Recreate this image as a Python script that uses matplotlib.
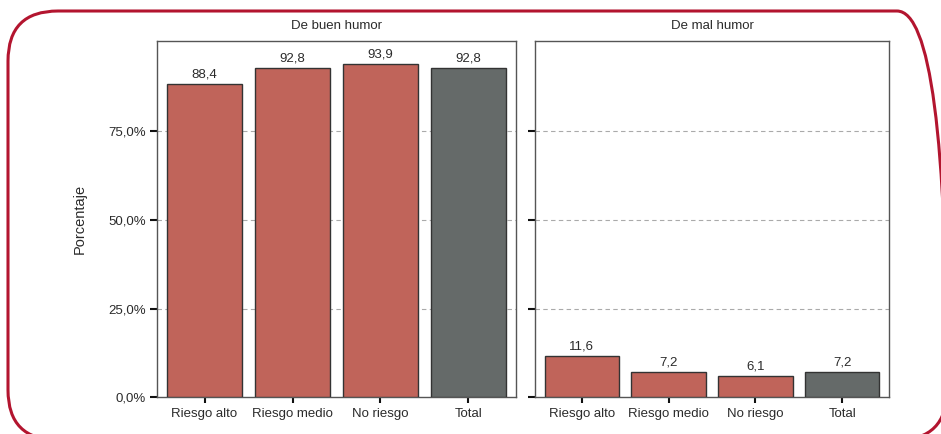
import matplotlib
matplotlib.use('Agg')
import matplotlib.pyplot as plt
from matplotlib.patches import FancyBboxPatch
from matplotlib.transforms import IdentityTransform
from matplotlib.ticker import FuncFormatter

plt.rcParams['font.family'] = ['Liberation Sans', 'DejaVu Sans']

categories = ['Riesgo alto', 'Riesgo medio', 'No riesgo', 'Total']
panels = ['De buen humor', 'De mal humor']
buen_humor = [88.4, 92.8, 93.9, 92.8]
mal_humor = [11.6, 7.2, 6.1, 7.2]
yticks = [0, 25, 50, 75]

red = '#c0645a'
grey = '#656a69'
colors = [red, red, red, grey]
text_col = '#2b2b2b'

W, H = 941, 434
fig = plt.figure(figsize=(W / 100, H / 100), dpi=100)

# rounded frame around the figure, in pixels (runs off the right/bottom edge)
frame = FancyBboxPatch((8, -6), 947 - 8, (H - 11) + 6,
                       boxstyle='round,pad=0,rounding_size=50',
                       transform=IdentityTransform(), fill=False,
                       edgecolor='#b3152f', linewidth=2.2, clip_on=False)
fig.patches.append(frame)

ax1 = fig.add_axes([157 / W, 1 - 397.3 / H, 359 / W, (397.3 - 40.7) / H])
ax2 = fig.add_axes([535 / W, 1 - 397.3 / H, 354 / W, (397.3 - 40.7) / H])

pct = FuncFormatter(lambda v, p: ('%.1f%%' % v).replace('.', ','))

for ax, title, vals in zip([ax1, ax2], panels, [buen_humor, mal_humor]):
    x = range(len(categories))
    ax.bar(x, vals, width=0.86, color=colors, edgecolor='#333333',
           linewidth=1.0, zorder=3)
    for xi, v in zip(x, vals):
        ax.annotate(('%.1f' % v).replace('.', ','), (xi, v),
                    xytext=(0, 2.5), textcoords='offset points',
                    ha='center', va='bottom', fontsize=9.5, color=text_col)
    ax.set_xlim(-0.54, 3.54)
    ax.set_ylim(0, 100.6)
    ax.set_yticks(yticks)
    ax.yaxis.set_major_formatter(pct)
    ax.set_xticks(list(x))
    ax.set_xticklabels(categories)
    for gy in yticks[1:]:
        ax.axhline(gy, color='#aaaaaa', linewidth=0.8, linestyle=(0, (4, 3)),
                   zorder=1)
    ax.set_title(title, fontsize=9.5, color=text_col, pad=8.5)
    ax.tick_params(axis='both', direction='out', length=5, width=1.5,
                   color='#111111', labelsize=9.5, labelcolor=text_col, pad=3)
    ax.tick_params(axis='x', length=4.5)
    for sp in ax.spines.values():
        sp.set_color('#555555')
        sp.set_linewidth(1.0)

ax2.set_yticklabels([])
fig.text(80 / W, 1 - 219 / H, 'Porcentaje', rotation=90, ha='center',
         va='center', fontsize=10.5, color=text_col)

fig.savefig('out.png', dpi=100)
